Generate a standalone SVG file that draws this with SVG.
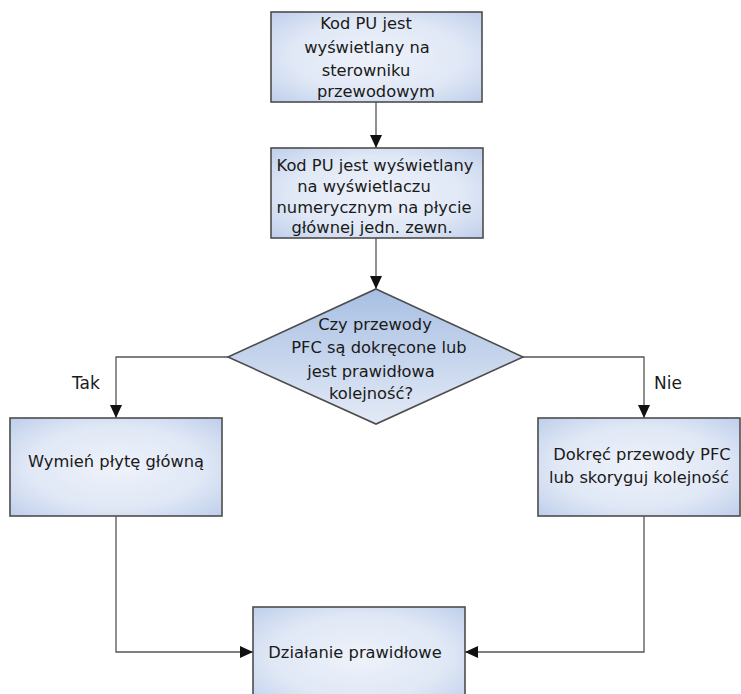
<svg xmlns="http://www.w3.org/2000/svg" width="741" height="694" viewBox="0 0 741 694">
  <style>
    .box { fill: url(#boxFill); stroke: #4d4d4d; stroke-width: 1.6; }
    .dec { fill: url(#decFill); stroke: #4d4d4d; stroke-width: 1.6; }
    .t { font-family: "DejaVu Sans", Verdana, sans-serif; font-size: 16.3px; fill: #1a1a1a; text-anchor: middle; }
    .lbl { font-family: "DejaVu Sans", Verdana, sans-serif; font-size: 17px; fill: #1a1a1a; }
    .wire { fill: none; stroke: #555555; stroke-width: 1.3; }
  </style>
  <defs>
    <radialGradient id="boxFill" cx="0.5" cy="0.5" r="0.75">
      <stop offset="0" stop-color="#eef2fa"/>
      <stop offset="0.55" stop-color="#e0e8f6"/>
      <stop offset="1" stop-color="#b9cbe9"/>
    </radialGradient>
    <linearGradient id="decFill" x1="0" y1="0" x2="0" y2="1">
      <stop offset="0" stop-color="#a8bfe3"/>
      <stop offset="1" stop-color="#e3eaf6"/>
    </linearGradient>
    <marker id="arrow" markerUnits="userSpaceOnUse" markerWidth="14" markerHeight="12" refX="13" refY="6" orient="auto">
      <path d="M0,0 L13,6 L0,12 Z" fill="#111111"/>
    </marker>
  </defs>

  <!-- connectors -->
  <g id="connectors">
    <line class="wire" x1="376" y1="102" x2="376" y2="148" marker-end="url(#arrow)"/>
    <line class="wire" x1="376" y1="238" x2="376" y2="289" marker-end="url(#arrow)"/>
    <polyline class="wire" points="228,357 116,357 116,418" marker-end="url(#arrow)"/>
    <polyline class="wire" points="523,357 644,357 644,418" marker-end="url(#arrow)"/>
    <polyline class="wire" points="116,516 116,652 253,652" marker-end="url(#arrow)"/>
    <polyline class="wire" points="644,516 644,652 465,652" marker-end="url(#arrow)"/>
    <text class="lbl" x="72" y="389">Tak</text>
    <text class="lbl" x="654" y="389">Nie</text>
  </g>

  <!-- process: code shown on wired controller -->
  <g id="n1">
    <rect class="box" x="271" y="12" width="211" height="90"/>
    <text class="t" x="366" y="29">Kod PU jest</text>
    <text class="t" x="367" y="53">wyświetlany na</text>
    <text class="t" x="366" y="76">sterowniku</text>
    <text class="t" x="376" y="97">przewodowym</text>
  </g>

  <!-- process: code shown on outdoor unit display -->
  <g id="n2">
    <rect class="box" x="271" y="148" width="212" height="90"/>
    <text class="t" x="375" y="171">Kod PU jest wyświetlany</text>
    <text class="t" x="364" y="192">na wyświetlaczu</text>
    <text class="t" x="374" y="213">numerycznym na płycie</text>
    <text class="t" x="372" y="233">głównej jedn. zewn.</text>
  </g>

  <!-- decision -->
  <g id="n3">
    <polygon class="dec" points="376,289 523,357 376,424 228,357"/>
    <text class="t" x="375" y="330">Czy przewody</text>
    <text class="t" x="379" y="353">PFC są dokręcone lub</text>
    <text class="t" x="371" y="377">jest prawidłowa</text>
    <text class="t" x="371" y="399">kolejność?</text>
  </g>

  <!-- yes branch -->
  <g id="n4">
    <rect class="box" x="10" y="418" width="212" height="98"/>
    <text class="t" x="116" y="467">Wymień płytę główną</text>
  </g>

  <!-- no branch -->
  <g id="n5">
    <rect class="box" x="538" y="418" width="202" height="98"/>
    <text class="t" x="642" y="460">Dokręć przewody PFC</text>
    <text class="t" x="639" y="483">lub skoryguj kolejność</text>
  </g>

  <!-- end -->
  <g id="n6">
    <rect class="box" x="253" y="607" width="212" height="100"/>
    <text class="t" x="355" y="658">Działanie prawidłowe</text>
  </g>
</svg>
